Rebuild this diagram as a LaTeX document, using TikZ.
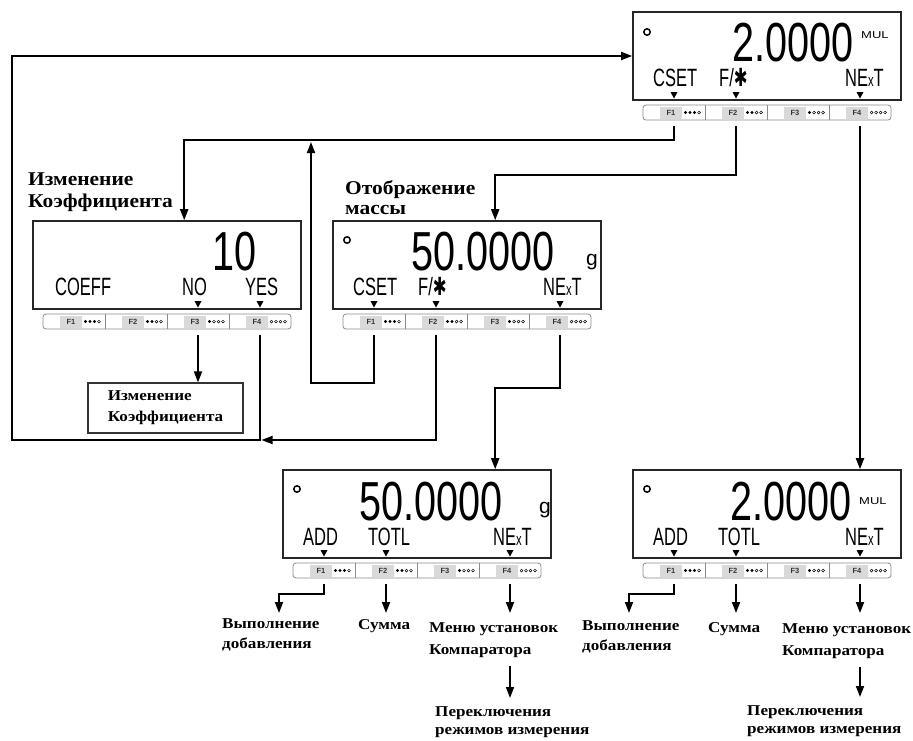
\documentclass[tikz,border=0pt]{standalone}
\usepackage{fontspec}
\setmainfont{Liberation Serif}
\newfontfamily\lblfont[FakeStretch=1.14]{Liberation Serif}
\newfontfamily\toplblfont[FakeStretch=1.1]{Liberation Serif}
\newfontfamily\lcdfont{Liberation Sans}
\newfontfamily\symfont{DejaVu Sans}
\usetikzlibrary{arrows.meta,calc}

\newcommand{\lcdnum}[1]{\scalebox{0.72}[1]{\lcdfont\fontsize{55}{55}\selectfont #1}}
\newcommand{\lcdsm}[1]{\scalebox{0.66}[1]{\lcdfont\fontsize{25}{25}\selectfont #1}}
\newcommand{\smx}{{\fontsize{17}{17}\selectfont x}}
\newcommand{\mulunit}{\scalebox{1.3}[1]{MUL}}

\tikzset{
  lcdbox/.style={draw=black!85, line width=1.6pt, minimum width=268pt, minimum height=88pt, inner sep=0pt},
  stripline/.style={draw=black!45, line width=0.8pt, rounded corners=3pt},
  keytxt/.style={inner sep=0pt, font=\lcdfont\bfseries\fontsize{7.5}{7.5}\selectfont, text=black!80},
  conn/.style={draw=black, line width=1.8pt, -{Triangle[length=11pt,width=8pt]}},
  bignum/.style={anchor=east, inner sep=0pt},
  lcdlbl/.style={anchor=west, inner sep=0pt},
  unitlbl/.style={anchor=west, inner sep=0pt, font=\lcdfont\fontsize{10}{10}\selectfont},
  glbl/.style={anchor=west, inner sep=0pt, font=\lcdfont\fontsize{21}{21}\selectfont},
  dotmark/.style={line width=1.5pt},
  biglbl/.style={anchor=north west, inner sep=0pt, align=left, font=\toplblfont\bfseries\fontsize{19.5}{22}\selectfont},
  txtlbl/.style={anchor=north west, inner sep=0pt, align=left, font=\lblfont\bfseries\fontsize{15}{20}\selectfont},
  chgbox/.style={draw=black!80, line width=1.2pt, minimum width=155pt, minimum height=50pt, align=left, inner sep=0pt, font=\lblfont\bfseries\fontsize{15}{21}\selectfont},
}

% #1 name, #2 x, #3 y (top-left), #4 keys carrying a marker
\newcommand{\lcdpanel}[4]{%
 \begin{scope}[shift={(#2,#3)}]
  \node[lcdbox] (#1) at (134,44) {};
  \draw[stripline] (10,93) rectangle (258,108);
  \foreach \k/\nf in {1/3,2/2,3/1,4/0}{
    \pgfmathsetmacro{\xo}{10+62*(\k-1)}
    \fill[black!15] (\xo+17,94.5) rectangle (\xo+39,106.5);
    \node[keytxt] (#1-t\k) at (\xo+28,100.5) {F\k};
    \foreach \d in {1,2,3,4}{
      \ifnum\d>\nf\relax
        \draw[line width=0.5pt] (\xo+38+4.5*\d,100.5) circle[radius=1.4pt];
      \else
        \fill (\xo+38+4.5*\d,100.5) circle[radius=1.7pt];
      \fi}
    \ifnum\k<4 \draw[black!45,line width=0.8pt] (\xo+62,93) -- (\xo+62,108);\fi
    \coordinate (#1-f\k) at (\xo+31,114);
  }
  \foreach \m in {#4}{
    \fill (62*\m-21-3.5,80) -- (62*\m-21+3.5,80) -- (62*\m-21,86.5) -- cycle;
  }
 \end{scope}}

\begin{document}
\begin{tikzpicture}[x=1pt,y=-1pt]
\fill[white] (0,0) rectangle (913,740);
\useasboundingbox (0,0) rectangle (913,740);

% ---------- displays ----------
\lcdpanel{d1}{633}{12}{1,2,4}
\begin{scope}[shift={(633,12)}]
  \draw[dotmark] (14,20) circle[radius=3.2pt];
  \node[bignum] (d1n) at (221,31) {\lcdnum{2.0000}};
  \node[unitlbl] (d1u) at (228,23) {\mulunit};
  \node[lcdlbl] (d1a) at (20,66) {\lcdsm{CSET}};
  \node[lcdlbl] (d1b) at (86,66) {\lcdsm{F/{\symfont ✱}}};
  \node[lcdlbl] (d1c) at (212,66) {\lcdsm{NE\smx T}};
\end{scope}

\lcdpanel{dc}{33}{221}{3,4}
\begin{scope}[shift={(33,221)}]
  \node[bignum] (dcn) at (224,31) {\lcdnum{10}};
  \node[lcdlbl] (dca) at (22,66) {\lcdsm{COEFF}};
  \node[lcdlbl] (dcb) at (149,66) {\lcdsm{NO}};
  \node[lcdlbl] (dcc) at (212,66) {\lcdsm{YES}};
\end{scope}

\lcdpanel{dm}{333}{221}{1,2,4}
\begin{scope}[shift={(333,221)}]
  \draw[dotmark] (14,19) circle[radius=3.2pt];
  \node[bignum] (dmn) at (222,31) {\lcdnum{50.0000}};
  \node[glbl] (dmu) at (253,41) {g};
  \node[lcdlbl] (dma) at (20,66) {\lcdsm{CSET}};
  \node[lcdlbl] (dmb) at (85,66) {\lcdsm{F/{\symfont ✱}}};
  \node[lcdlbl] (dmc) at (210,66) {\lcdsm{NE\smx T}};
\end{scope}

\lcdpanel{db}{283}{470}{1,2,4}
\begin{scope}[shift={(283,470)}]
  \draw[dotmark] (14,19) circle[radius=3.2pt];
  \node[bignum] (dbn) at (220,32) {\lcdnum{50.0000}};
  \node[glbl] (dbu) at (256,40) {g};
  \node[lcdlbl] (dba) at (20,67) {\lcdsm{ADD}};
  \node[lcdlbl] (dbb) at (85,67) {\lcdsm{TOTL}};
  \node[lcdlbl] (dbc) at (210,67) {\lcdsm{NE\smx T}};
\end{scope}

\lcdpanel{dr}{633}{470}{1,2,4}
\begin{scope}[shift={(633,470)}]
  \draw[dotmark] (14,19) circle[radius=3.2pt];
  \node[bignum] (drn) at (219,32) {\lcdnum{2.0000}};
  \node[unitlbl] (dru) at (226,31) {\mulunit};
  \node[lcdlbl] (dra) at (20,67) {\lcdsm{ADD}};
  \node[lcdlbl] (drb) at (85,67) {\lcdsm{TOTL}};
  \node[lcdlbl] (drc) at (212,67) {\lcdsm{NE\smx T}};
\end{scope}

% ---------- labels ----------
\node[biglbl] (lblC) at (28,173) {Изменение\\Коэффициента};
\node[biglbl, font=\toplblfont\bfseries\fontsize{19.5}{20}\selectfont] (lblM) at (345,180) {Отображение\\массы};
\node[chgbox] (chg) at (165.5,408) {Изменение\\Коэффициента};

\node[txtlbl] (vyp1) at (222,618) {Выполнение\\добавления};
\node[txtlbl] (sum1) at (358,619) {Сумма};
\node[txtlbl, font=\lblfont\bfseries\fontsize{15}{22}\selectfont] (men1) at (429,622) {Меню установок\\Компаратора};
\node[txtlbl, font=\lblfont\bfseries\fontsize{15}{18}\selectfont] (per1) at (435,706) {Переключения\\режимов измерения};

\node[txtlbl] (vyp2) at (582,620) {Выполнение\\добавления};
\node[txtlbl] (sum2) at (708,622) {Сумма};
\node[txtlbl, font=\lblfont\bfseries\fontsize{15}{22}\selectfont] (men2) at (782,623) {Меню установок\\Компаратора};
\node[txtlbl, font=\lblfont\bfseries\fontsize{15}{18}\selectfont] (per2) at (747,705) {Переключения\\режимов измерения};

% ---------- connectors ----------
\coordinate (loopBL) at (12,440);
\coordinate (j1) at (311,142);

\draw[conn] (d1-f1) -- ++(0,14) -| ($(dc.north west)+(152,0)$);
\draw[conn] (d1-f2) -- ++(0,49) -| ($(dm.north west)+(163,0)$);
\draw[conn] (d1-f4) -- (d1-f4 |- dr.north);

\draw[conn] (dc-f3) -- (dc-f3 |- chg.north);
\draw[conn] (dc-f4) |- (loopBL) |- (d1.west);

\draw[conn] (dm-f1) -- ++(0,48) -| (j1);
\draw[conn] (dm-f2) |- ($(dc-f4 |- loopBL)+(1.5,0)$);
\draw[conn] (dm-f4) -- ++(0,53) -| ($(db.north west)+(213,0)$);

\draw[conn] (db-f1) -- ++(0,10) -| ($(vyp1.north west)+(57,-5)$);
\draw[conn] (db-f2) -- ($(db-f2 |- sum1.north)+(0,-6)$);
\draw[conn] (db-f4) -- ($(db-f4 |- men1.north)+(0,-9)$);
\draw[conn] ($(db-f4 |- men1.south)+(0,9)$) -- ($(db-f4 |- per1.north)+(0,-8)$);

\draw[conn] (dr-f1) -- ++(0,10) -| ($(vyp2.north west)+(47,-7)$);
\draw[conn] (dr-f2) -- ($(dr-f2 |- sum2.north)+(0,-9)$);
\draw[conn] (dr-f4) -- ($(dr-f4 |- men2.north)+(0,-10)$);
\draw[conn] ($(dr-f4 |- men2.south)+(0,9)$) -- ($(dr-f4 |- per2.north)+(0,-8)$);
\end{tikzpicture}
\end{document}
